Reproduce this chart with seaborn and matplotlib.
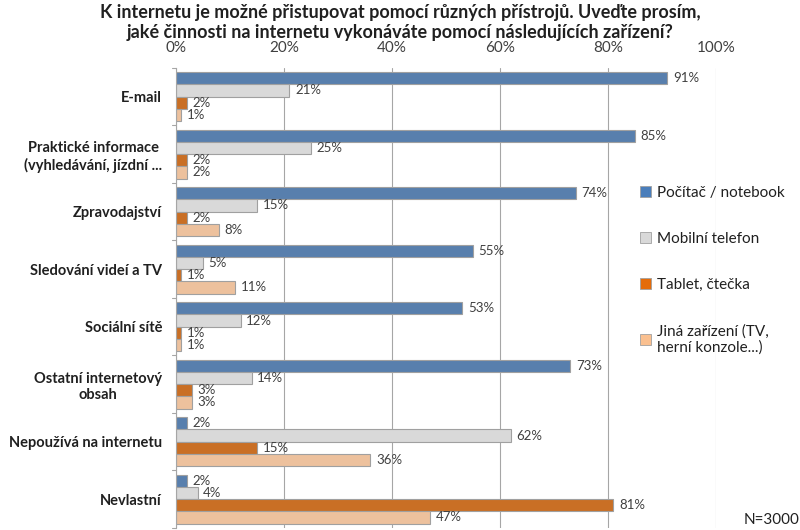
import matplotlib
matplotlib.use("Agg")
import matplotlib.pyplot as plt
import seaborn as sns
import pandas as pd
from matplotlib.patches import Patch

categories = ["E-mail", "Praktické informace\n(vyhledávání, jízdní ...", "Zpravodajství",
              "Sledování videí a TV", "Sociální sítě", "Ostatní internetový\nobsah",
              "Nepoužívá na internetu", "Nevlastní"]
series = ["Počítač / notebook", "Mobilní telefon", "Tablet, čtečka",
          "Jiná zařízení (TV,\nherní konzole...)"]
pc = [91, 85, 74, 55, 53, 73, 2, 2]
mobil = [21, 25, 15, 5, 12, 14, 62, 4]
tablet = [2, 2, 2, 1, 1, 3, 15, 81]
jine = [1, 2, 8, 11, 1, 3, 36, 47]
colors = ["#4A7EBB", "#D9D9D9", "#E46C0A", "#FAC090"]
ticks = [0, 20, 40, 60, 80, 100]

rows = []
for s, vals in zip(series, [pc, mobil, tablet, jine]):
    for c, v in zip(categories, vals):
        rows.append({"cat": c, "series": s, "val": v})
df = pd.DataFrame(rows)

sns.set_theme(style="white")
plt.rcParams["font.family"] = ["Lato", "DejaVu Sans"]

fig = plt.figure(figsize=(8, 5.3), dpi=100)
ax = fig.add_axes([0.22, 0.004, 0.675, 0.868])
sns.barplot(data=df, y="cat", x="val", hue="series", order=categories,
            hue_order=series, palette=colors, orient="h", ax=ax,
            edgecolor="#A0A0A0", linewidth=0.8, width=0.85, legend=False)

for cont in ax.containers:
    ax.bar_label(cont, labels=[f"{int(v)}%" for v in cont.datavalues],
                 padding=4, fontsize=9.5, color="#404040")

ax.set_xlim(0, 100)
ax.set_xticks(ticks)
ax.set_xticklabels([f"{t}%" for t in ticks], fontsize=11, color="#404040")
ax.xaxis.tick_top()
ax.tick_params(axis="x", length=0, pad=9)
ax.tick_params(axis="y", length=0, pad=10)
ax.set_xlabel("")
ax.set_ylabel("")
for lab in ax.get_yticklabels():
    lab.set_fontweight("bold")
    lab.set_fontsize(10.5)
    lab.set_multialignment("center")
    lab.set_color("#202020")
ax.grid(axis="x", color="#A6A6A6", linewidth=0.8)
ax.set_axisbelow(True)
for sp in ["top", "bottom", "right"]:
    ax.spines[sp].set_visible(False)
ax.spines["left"].set_color("#A6A6A6")
ax.spines["left"].set_linewidth(0.8)
# group separators on the left axis
for i in range(len(categories) + 1):
    ax.plot([-0.8, 0], [i - 0.5, i - 0.5], color="#A6A6A6", lw=0.8,
            clip_on=False, transform=ax.transData)
ax.set_ylim(len(categories) - 0.5, -0.5)

handles = [Patch(facecolor=c, edgecolor="#A0A0A0", linewidth=0.6) for c in colors]
fig.legend(handles, series, loc="upper left", bbox_to_anchor=(0.7825, 0.675),
           frameon=False, fontsize=11, handlelength=0.75, handleheight=0.75,
           handletextpad=0.4, labelspacing=2.1, labelcolor="#202020")

fig.text(0.5, 0.992, "K internetu je možné přistupovat pomocí různých přístrojů. Uveďte prosím,\n"
         "jaké činnosti na internetu vykonáváte pomocí následujících zařízení?",
         ha="center", va="top", fontsize=13, fontweight="bold", color="#202020",
         linespacing=1.2)
fig.text(0.93, 0.005, "N=3000", ha="left", va="bottom", fontsize=11, color="#202020")

fig.savefig("out.png", dpi=100)
